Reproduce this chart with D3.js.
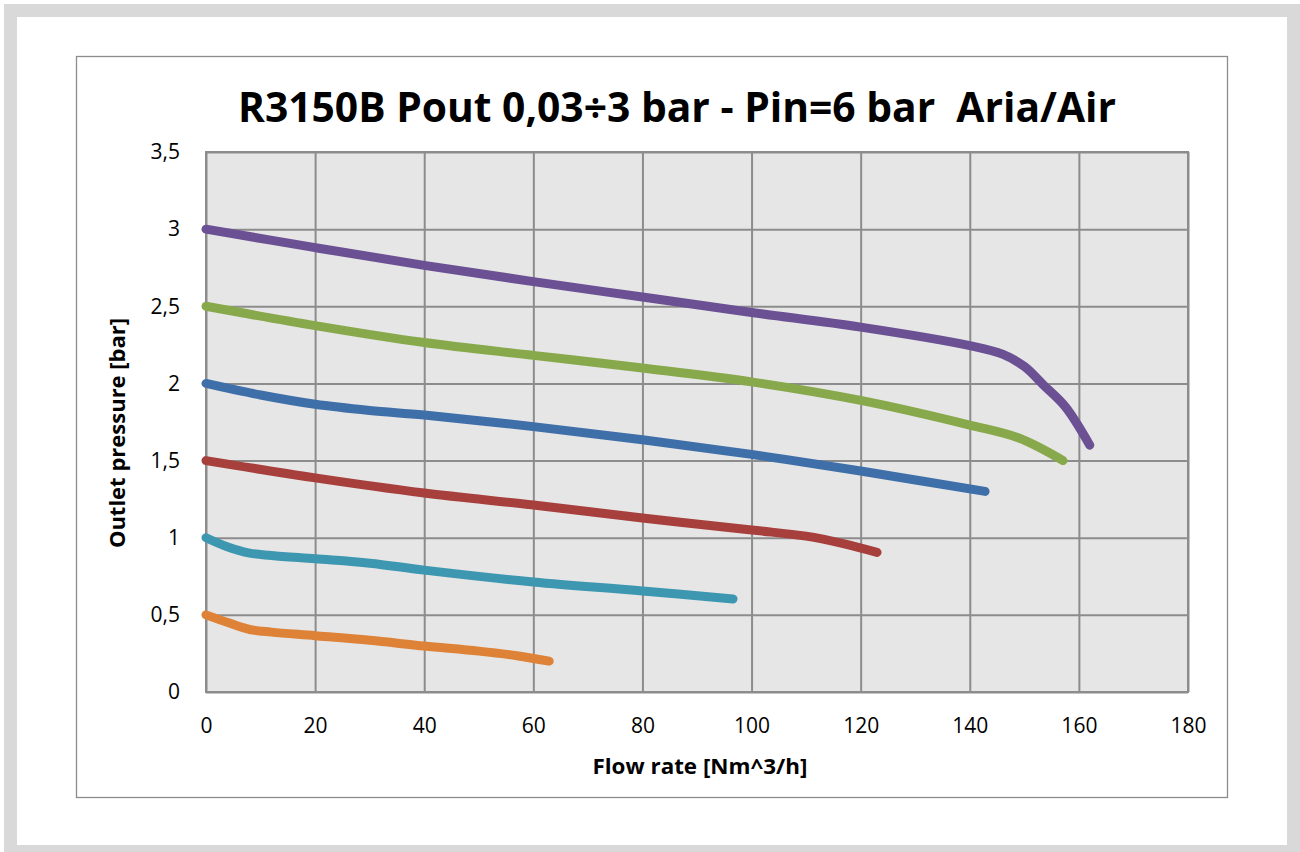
<!DOCTYPE html>
<html>
<head>
<meta charset="utf-8">
<script src="https://cdn.jsdelivr.net/npm/d3@7"></script>
<style>
  html, body { margin: 0; padding: 0; background: #ffffff; }
  svg { display: block; }
</style>
</head>
<body>
<svg id="chart" width="1300" height="852"></svg>
<script>
// ---- Data ----
const titleText = "R3150B Pout 0,03÷3 bar - Pin=6 bar  Aria/Air";
const xAxisTitle = "Flow rate [Nm^3/h]";
const yAxisTitle = "Outlet pressure [bar]";
const xTicks = [0, 20, 40, 60, 80, 100, 120, 140, 160, 180];
const yTicks = [0, 0.5, 1, 1.5, 2, 2.5, 3, 3.5];
const yTickLabels = ["0", "0,5", "1", "1,5", "2", "2,5", "3", "3,5"];

const pout3Flow = [0, 20, 40, 60, 80, 100, 120, 140, 146, 150, 153.5, 157.5, 162];
const pout3Pres = [3.0, 2.88, 2.765, 2.66, 2.56, 2.46, 2.365, 2.245, 2.19, 2.11, 1.99, 1.85, 1.6];

const pout25Flow = [0, 20, 40, 60, 80, 100, 120, 140, 149, 157.1];
const pout25Pres = [2.5, 2.375, 2.265, 2.182, 2.1, 2.01, 1.89, 1.73, 1.646, 1.5];

const pout2Flow = [0, 10, 20, 30, 40, 60, 80, 100, 120, 142.8];
const pout2Pres = [2.0, 1.925, 1.865, 1.825, 1.795, 1.72, 1.635, 1.54, 1.432, 1.3];

const pout15Flow = [0, 20, 40, 60, 80, 100, 110, 117, 123];
const pout15Pres = [1.5, 1.388, 1.29, 1.212, 1.128, 1.05, 1.01, 0.96, 0.905];

const pout1Flow = [0, 4, 8, 12, 20, 30, 40, 60, 80, 96.6];
const pout1Pres = [1.0, 0.94, 0.9, 0.885, 0.863, 0.835, 0.79, 0.713, 0.655, 0.603];

const pout05Flow = [0, 4, 8, 12, 20, 30, 40, 50, 57, 62.9];
const pout05Pres = [0.5, 0.45, 0.405, 0.388, 0.365, 0.335, 0.298, 0.265, 0.235, 0.2];

const seriesFlows = [pout3Flow, pout25Flow, pout2Flow, pout15Flow, pout1Flow, pout05Flow];
const seriesPres = [pout3Pres, pout25Pres, pout2Pres, pout15Pres, pout1Pres, pout05Pres];
const seriesColors = ["#6b5193", "#88a94b", "#3f6fa9", "#a7403c", "#3d97b0", "#de8237"];

// ---- Layout ----
const svg = d3.select("#chart");
const W = 1300, H = 852;
const plot = { left: 206, top: 152, right: 1188, bottom: 692 };

// outer frame
svg.append("rect").attr("x", 4).attr("y", 4).attr("width", W - 4).attr("height", H - 4).attr("fill", "#d9d9d9");
svg.append("rect").attr("x", 17).attr("y", 17).attr("width", 1270).attr("height", 828).attr("fill", "#ffffff");
// chart box
svg.append("rect").attr("x", 76.5).attr("y", 56.5).attr("width", 1151).attr("height", 741)
  .attr("fill", "#ffffff").attr("stroke", "#8c8c8c").attr("stroke-width", 1.3);

const x = d3.scaleLinear().domain([0, 180]).range([plot.left, plot.right]);
const y = d3.scaleLinear().domain([0, 3.5]).range([plot.bottom, plot.top]);

// plot background
svg.append("rect").attr("x", plot.left).attr("y", plot.top)
  .attr("width", plot.right - plot.left).attr("height", plot.bottom - plot.top)
  .attr("fill", "#e6e6e6");

// gridlines via axes
const gridColor = "#8c8c8c";
const xGrid = svg.append("g").attr("transform", `translate(0,${plot.bottom})`)
  .call(d3.axisBottom(x).tickValues(xTicks).tickSize(-(plot.bottom - plot.top)).tickFormat(""));
xGrid.select(".domain").remove();
xGrid.selectAll("line").attr("stroke", gridColor).attr("stroke-width", 2);

const yGrid = svg.append("g").attr("transform", `translate(${plot.left},0)`)
  .call(d3.axisLeft(y).tickValues(yTicks).tickSize(-(plot.right - plot.left)).tickFormat(""));
yGrid.select(".domain").remove();
yGrid.selectAll("line").attr("stroke", gridColor).attr("stroke-width", 2);

// plot border
svg.append("rect").attr("x", plot.left).attr("y", plot.top)
  .attr("width", plot.right - plot.left).attr("height", plot.bottom - plot.top)
  .attr("fill", "none").attr("stroke", gridColor).attr("stroke-width", 2);

// tick labels via axes
const font = "'Open Sans', 'Noto Sans', sans-serif";
const xAx = svg.append("g").attr("transform", `translate(0,${plot.bottom})`)
  .call(d3.axisBottom(x).tickValues(xTicks).tickSize(0).tickPadding(26).tickFormat(d3.format("d")));
xAx.select(".domain").remove();
xAx.selectAll("text").attr("font-family", font).attr("font-size", 21).attr("fill", "#000");

const yAx = svg.append("g").attr("transform", `translate(${plot.left},0)`)
  .call(d3.axisLeft(y).tickValues(yTicks).tickSize(0).tickPadding(26)
    .tickFormat((d, i) => yTickLabels[i]));
yAx.select(".domain").remove();
yAx.selectAll("text").attr("font-family", font).attr("font-size", 21).attr("fill", "#000");

// lines
const line = d3.line().x(d => x(d[0])).y(d => y(d[1])).curve(d3.curveCatmullRom.alpha(0.5));
seriesFlows.forEach((fl, i) => {
  const pts = fl.map((f, j) => [f, seriesPres[i][j]]);
  svg.append("path").datum(pts).attr("d", line)
    .attr("fill", "none").attr("stroke", seriesColors[i])
    .attr("stroke-width", 9).attr("stroke-linecap", "round").attr("stroke-linejoin", "round");
});

// title
function fitText(sel, len) {
  const w = sel.node().getComputedTextLength();
  if (Math.abs(w - len) > 2) sel.attr("textLength", len).attr("lengthAdjust", "spacingAndGlyphs");
}
const t = svg.append("text").attr("x", 677).attr("y", 122).attr("text-anchor", "middle")
  .attr("font-family", font).attr("font-weight", "bold").attr("font-size", 40.5).attr("fill", "#000")
  .style("white-space", "pre").attr("xml:space", "preserve").text(titleText);
fitText(t, 878);

const xt = svg.append("text").attr("x", 700).attr("y", 774).attr("text-anchor", "middle")
  .attr("font-family", font).attr("font-weight", "bold").attr("font-size", 22).attr("fill", "#000")
  .text(xAxisTitle);
fitText(xt, 215);

const yt = svg.append("text").attr("transform", `translate(125,433) rotate(-90)`).attr("text-anchor", "middle")
  .attr("font-family", font).attr("font-weight", "bold").attr("font-size", 22).attr("fill", "#000")
  .text(yAxisTitle);
fitText(yt, 230);
</script>
</body>
</html>
